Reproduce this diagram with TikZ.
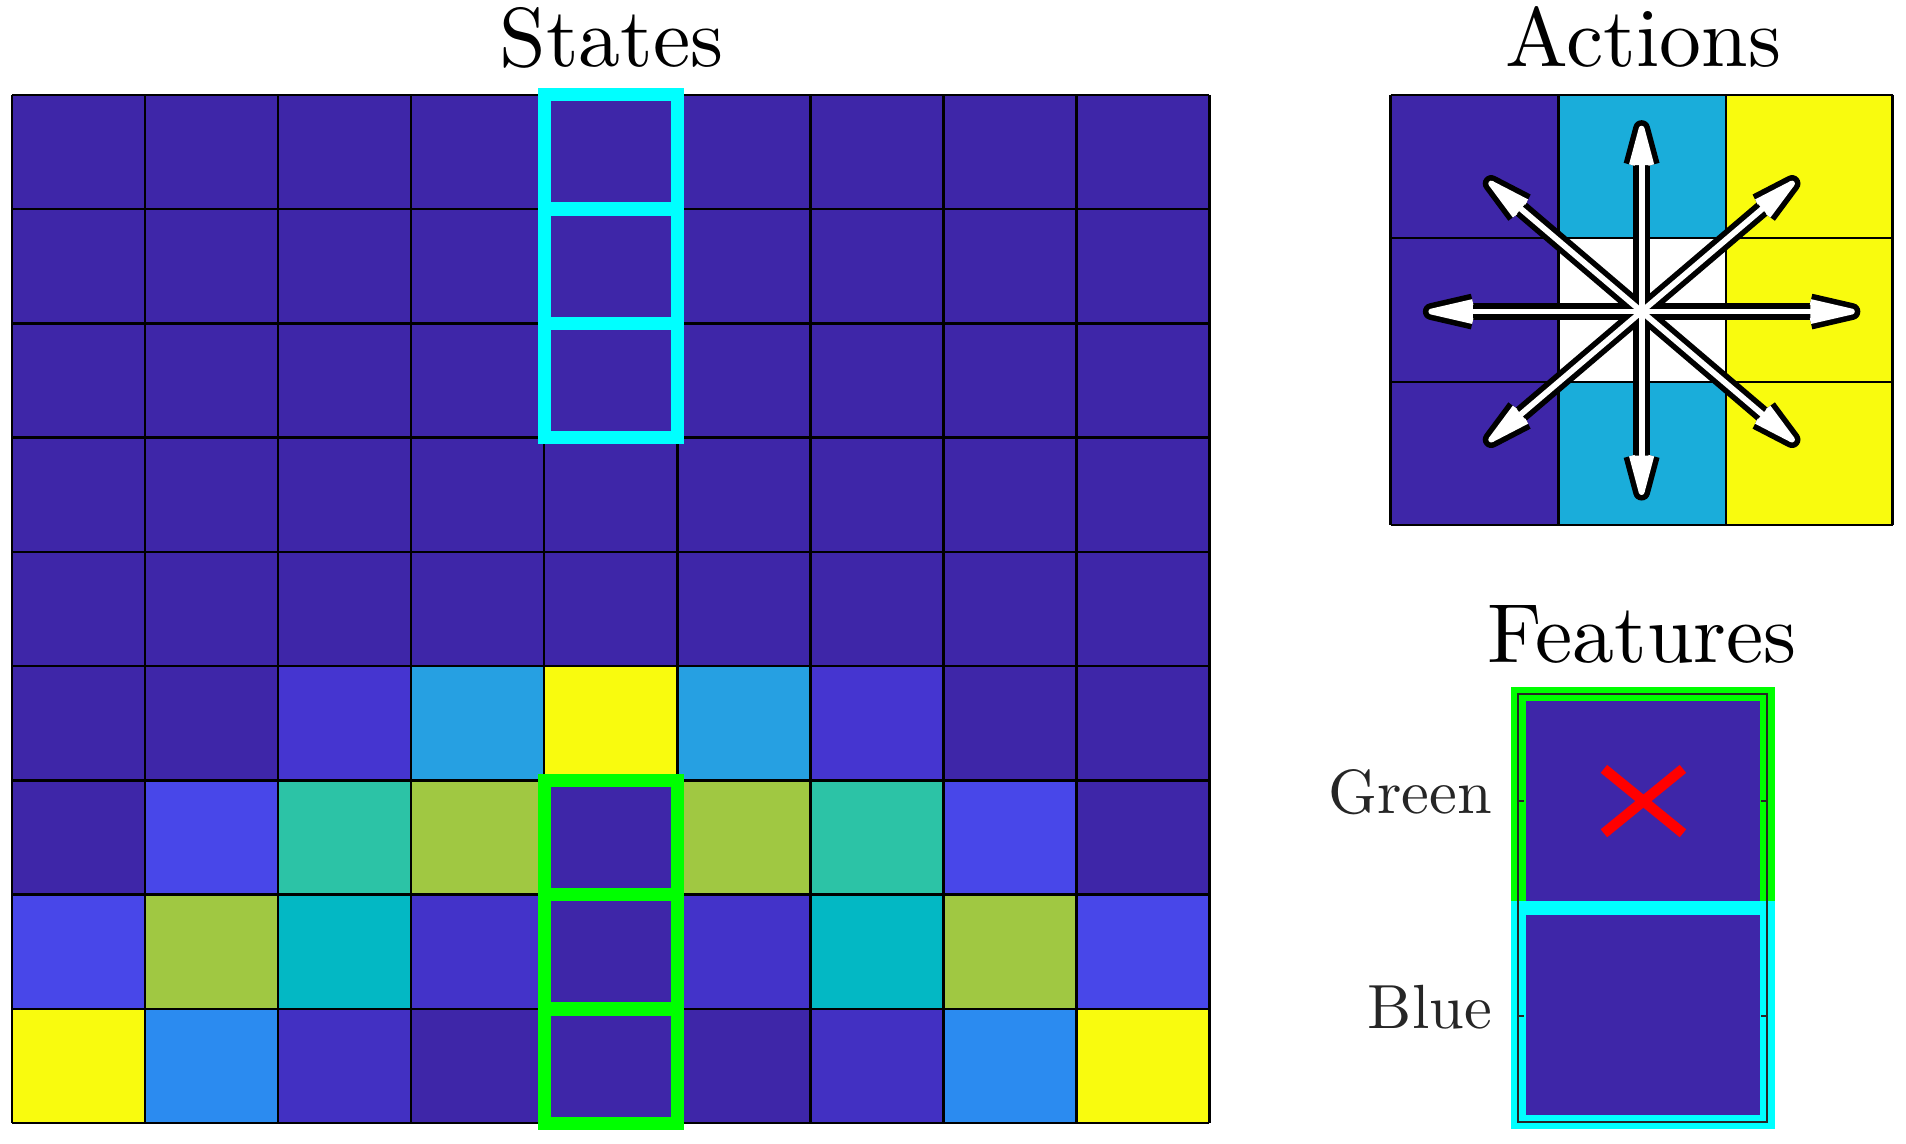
\documentclass[tikz,border=0pt]{standalone}
\usepackage{fontspec}
\setmainfont{lmroman10-regular.otf}
\definecolor{cD}{HTML}{3E26A8}
\definecolor{cP1}{HTML}{4535D0}
\definecolor{cLB}{HTML}{26A0E2}
\definecolor{cY}{HTML}{F9FB0E}
\definecolor{cB2}{HTML}{4847E9}
\definecolor{cT}{HTML}{2CC3A6}
\definecolor{cYG}{HTML}{A0C842}
\definecolor{cC}{HTML}{03B8C4}
\definecolor{cP2}{HTML}{4333C9}
\definecolor{cLB2}{HTML}{2B8BF0}
\definecolor{cP3}{HTML}{4230C2}
\definecolor{aC}{HTML}{1AADDA}
\definecolor{axg}{HTML}{262626}
\definecolor{frC}{HTML}{00FFFF}
\definecolor{frG}{HTML}{00FF00}
\tikzset{
  gl/.style={draw=black, line width=0.55pt},
  cframe/.style={draw=frC, line width=3.1pt},
  gframe/.style={draw=frG, line width=3.1pt},
  fcframe/.style={draw=frC, line width=3.4pt},
  fgframe/.style={draw=frG, line width=3.4pt},
  ttl/.style={font=\fontsize{19.6}{24}\selectfont, anchor=base, inner sep=0pt},
  lbl/.style={font=\fontsize{14.6}{18}\selectfont, text=axg, anchor=base east, inner sep=0pt},
  arrB/.style={draw=black, line width=3.95pt, line join=round, line cap=butt},
  arrW/.style={draw=white, line width=1.35pt, line join=round, line cap=butt},
  axbox/.style={draw=axg, line width=0.5pt},
}
\newcommand\mcell[3]{\fill[#3] ({10+#1*109.444},{78+#2*94}) rectangle ++(109.444,94);}
% angle, length, head length, head spread
\newcommand\actarrB[4]{%
  \draw[arrB] (ac) -- ++(#1:#2) coordinate (tp);
  \draw[arrB] (tp) ++(#1+180+#4:#3) -- (tp) -- ++(#1+180-#4:#3);
}
\newcommand\actarrW[4]{%
  \draw[arrW] (ac) -- ++(#1:#2) coordinate (tp);
  \fill[white] (tp) ++(#1+180+#4:#3) -- (tp) -- ++(#1+180-#4:#3) -- cycle;
  \draw[arrW] (tp) ++(#1+180+#4:#3) -- (tp) -- ++(#1+180-#4:#3);
}
\newcommand\allarrows[1]{%
  #1{0}{173}{35}{13}
  #1{180}{173}{35}{13}
  #1{270}{150.5}{31}{15}
  #1{90}{148.5}{31}{15}
  #1{40.4}{162.5}{33}{13}
  #1{139.6}{162.5}{33}{13}
  #1{220.4}{162.5}{33}{13}
  #1{319.6}{162.5}{33}{13}
}
\begin{document}
\begin{tikzpicture}[x=0.01cm,y=-0.01cm]
\useasboundingbox (0,0) rectangle (1568,941);
% ---------------- States grid ----------------
\fill[cD] (10,78) rectangle (995,924);
\foreach \c/\r/\col in {2/5/cP1,3/5/cLB,4/5/cY,5/5/cLB,6/5/cP1,
  1/6/cB2,2/6/cT,3/6/cYG,5/6/cYG,6/6/cT,7/6/cB2,
  0/7/cB2,1/7/cYG,2/7/cC,3/7/cP2,5/7/cP2,6/7/cC,7/7/cYG,8/7/cB2,
  0/8/cY,1/8/cLB2,2/8/cP3,6/8/cP3,7/8/cLB2,8/8/cY}
  {\mcell{\c}{\r}{\col}}
\foreach \i in {0,...,9} {
  \draw[gl] ({10+\i*109.444},78) -- ({10+\i*109.444},924);
  \draw[gl] (10,{78+\i*94}) -- (995,{78+\i*94});
}
\foreach \r in {0,1,2} {
  \draw[cframe] ({10+4*109.444},{78+\r*94}) rectangle ++(109.444,94);
}
\foreach \r in {6,7,8} {
  \draw[gframe] ({10+4*109.444},{78+\r*94}) rectangle ++(109.444,94);
}
\node[ttl] (states) at (503,55) {States};
% ---------------- Actions ----------------
\fill[cD] (1144,78) rectangle (1282,432);
\fill[aC] (1282,78) rectangle (1420,432);
\fill[cY] (1420,78) rectangle (1557,432);
\fill[white] (1282,196) rectangle (1420,314);
\foreach \x in {1144,1282,1420,1557} {\draw[gl] (\x,78) -- (\x,432);}
\foreach \y in {78,196,314,432} {\draw[gl] (1144,\y) -- (1557,\y);}
\coordinate (ac) at (1350.5,256.3);
\allarrows{\actarrB}
\allarrows{\actarrW}
\node[ttl] (actions) at (1352,55) {Actions};
% ---------------- Features ----------------
\node[ttl] (features) at (1351,545) {Features};
\fill[cD] (1249,571) rectangle (1454,923);
\draw[fgframe] (1249,571) rectangle (1454,747);
\draw[fcframe] (1249,747) rectangle (1454,923);
\draw[axbox] (1249,571) rectangle (1454,923);
\foreach \y in {658.75,836} {
  \draw[axbox] (1249,\y) -- (1254,\y);
  \draw[axbox] (1454,\y) -- (1449,\y);
}
\draw[red, line width=2.4pt, line cap=butt] (1319.5,632.5) -- (1384.5,685.5);
\draw[red, line width=2.4pt, line cap=butt] (1319.5,685.5) -- (1384.5,632.5);
\node[lbl] (green) at (1228,669) {Green};
\node[lbl] (blue) at (1228,846) {Blue};
\end{tikzpicture}
\end{document}
